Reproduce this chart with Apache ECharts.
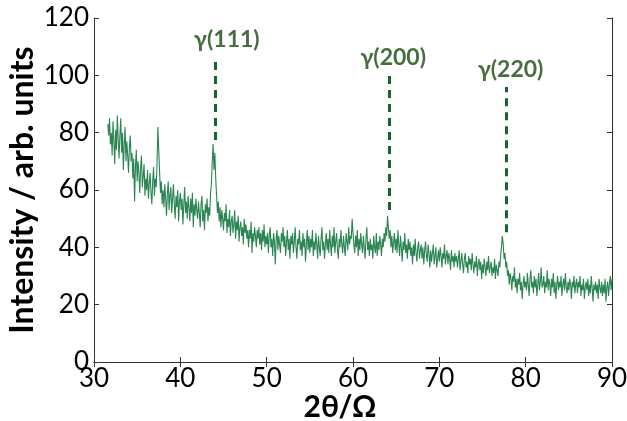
<!DOCTYPE html>
<html>
<head>
<meta charset="utf-8">
<script src="https://cdn.jsdelivr.net/npm/echarts@6/dist/echarts.min.js"></script>
<style>
html,body{margin:0;padding:0;background:#fff;}
#chart{width:627px;height:421px;}
</style>
</head>
<body>
<div id="chart"></div>
<script>
// 2θ sampling grid (degrees)
const angleStart = 31.6;
const angleStep = 0.1;

// Intensity readings (arb. units), one per sampling step
const intensity = [
  83, 79, 85, 76,
  80, 72, 84, 77, 69, 81, 74, 86, 78, 71,
  79, 85, 73, 80, 67, 76, 82, 70, 77, 72,
  66, 75, 79, 70, 73, 64, 71, 56, 68, 74,
  63, 70, 66, 59, 68, 72, 61, 65, 69, 58,
  64, 60, 67, 57, 62, 66, 59, 55, 63, 68,
  58, 64, 61, 69, 82, 74, 66, 59, 63, 55,
  60, 54, 62, 57, 51, 59, 63, 53, 58, 61,
  52, 57, 62, 55, 50, 58, 54, 60, 49, 56,
  59, 53, 57, 48, 55, 61, 52, 56, 50, 58,
  54, 49, 57, 52, 59, 47, 55, 51, 57, 53,
  50, 56, 52, 47, 55, 58, 49, 53, 46, 55,
  52, 57, 49, 54, 51, 59, 62, 70, 76, 67,
  73, 64, 58, 52, 56, 49, 54, 47, 53, 50,
  46, 52, 49, 55, 45, 50, 47, 53, 44, 49,
  51, 45, 48, 53, 43, 49, 46, 51, 42, 47,
  49, 44, 47, 41, 50, 45, 48, 43, 46, 40,
  46, 43, 49, 38, 45, 42, 47, 44, 40, 46,
  43, 47, 41, 45, 39, 46, 42, 48, 40, 44,
  41, 45, 38, 44, 47, 40, 43, 37, 45, 42,
  34, 43, 46, 39, 44, 41, 38, 45, 42, 47,
  40, 44, 37, 42, 46, 39, 43, 36, 44, 41,
  45, 38, 42, 47, 40, 36, 43, 41, 46, 39,
  42, 37, 45, 40, 43, 35, 41, 46, 39, 44,
  38, 43, 40, 46, 37, 42, 39, 45, 41, 36,
  44, 40, 37, 43, 47, 39, 42, 36, 41, 45,
  39, 43, 38, 46, 41, 37, 44, 40, 47, 38,
  42, 45, 39, 36, 43, 40, 46, 41, 38, 44,
  40, 37, 45, 42, 39, 47, 41, 44, 43, 50,
  45, 41, 38, 44, 40, 46, 37, 43, 39, 45,
  41, 38, 44, 40, 36, 43, 47, 39, 42, 37,
  43, 39, 41, 36, 44, 40, 38, 45, 37, 42,
  39, 44, 41, 37, 43, 40, 45, 42, 47, 44,
  51, 47, 43, 46, 40, 44, 38, 42, 45, 39,
  43, 38, 46, 41, 37, 44, 40, 35, 42, 39,
  45, 38, 41, 36, 43, 39, 42, 37, 40, 34,
  41, 37, 43, 38, 35, 40, 42, 36, 39, 41,
  36, 40, 34, 39, 42, 37, 35, 41, 38, 33,
  39, 35, 38, 41, 34, 37, 40, 33, 36, 39,
  35, 40, 37, 33, 38, 36, 41, 34, 37, 39,
  34, 38, 36, 32, 39, 35, 37, 33, 38, 35,
  37, 33, 36, 39, 32, 35, 38, 34, 31, 36,
  38, 33, 35, 31, 37, 34, 36, 32, 38, 34,
  31, 35, 33, 37, 30, 34, 36, 32, 35, 29,
  34, 31, 36, 33, 30, 35, 32, 37, 31, 33,
  35, 30, 33, 31, 36, 29, 34, 32, 30, 35,
  33, 37, 40, 44, 41, 36, 38, 33, 35, 30,
  32, 27, 31, 29, 25, 30, 28, 33, 26, 29,
  24, 29, 27, 31, 25, 28, 22, 27, 30, 26,
  28, 25, 31, 27, 23, 29, 32, 26, 28, 24,
  30, 26, 29, 23, 27, 31, 25, 28, 33, 26,
  27, 30, 24, 28, 26, 32, 25, 29, 27, 23,
  29, 26, 31, 24, 28, 22, 27, 30, 25, 28,
  26, 30, 23, 27, 29, 25, 31, 26, 24, 28,
  25, 29, 27, 22, 28, 26, 30, 24, 27, 29,
  24, 28, 26, 30, 23, 27, 25, 29, 22, 26,
  28, 25, 29, 23, 27, 24, 30, 26, 21, 27,
  25, 28, 24, 27, 22, 29, 26, 24, 28, 23,
  27, 24, 29, 21, 26, 28, 23, 27, 30, 25,
  29
];

// Reflection markers
const peakNames = ['γ(111)', 'γ(200)', 'γ(220)'];
const peakAngles = [44.0, 64.2, 77.8];
const markerBottom = [77.4, 53.0, 45.3];
const markerTop = [106.4, 100.1, 95.9];

// Axis ticks
const xTicks = [30, 40, 50, 60, 70, 80, 90];
const yTicks = [0, 20, 40, 60, 80, 100, 120];

const points = intensity.map((v, i) => [+(angleStart + i * angleStep).toFixed(2), v]);

const FONT = 'Lato';
const axisColor = '#333';
const lineColor = '#2a8552';
const markColor = '#17652a';
const textColor = '#184a0e';

const xMin = xTicks[0], xMax = xTicks[xTicks.length - 1];
const yMin = yTicks[0], yMax = yTicks[yTicks.length - 1];
const xInt = xTicks[1] - xTicks[0], yInt = yTicks[1] - yTicks[0];

const labelOffsets = [[12, -1], [4, -1], [4, -1]];

const chart = echarts.init(document.getElementById('chart'), null, {renderer: 'canvas'});
chart.setOption({
  animation: false,
  backgroundColor: '#fff',
  grid: {left: 94, right: 15, top: 18, bottom: 59, containLabel: false, outerBoundsMode: 'none'},
  xAxis: [{
    type: 'value', min: xMin, max: xMax, interval: xInt,
    name: '2θ/Ω', nameLocation: 'middle', nameGap: 30, nameMoveOverlap: false,
    nameTextStyle: {fontFamily: FONT, fontWeight: 'bold', fontSize: 30, color: '#000', padding: [0, 26, 0, 0]},
    axisLine: {show: true, lineStyle: {color: axisColor, width: 1}},
    axisTick: {show: true, inside: true, length: 5, lineStyle: {color: axisColor}},
    axisLabel: {fontFamily: FONT, fontSize: 26, color: '#000', margin: 4},
    splitLine: {show: false}
  }, {
    type: 'value', position: 'top', min: xMin, max: xMax, interval: xInt,
    axisLine: {show: true, lineStyle: {color: axisColor, width: 1}},
    axisTick: {show: true, inside: true, length: 5, lineStyle: {color: axisColor}},
    axisLabel: {show: false}, splitLine: {show: false}
  }],
  yAxis: [{
    type: 'value', min: yMin, max: yMax, interval: yInt,
    name: 'Intensity / arb. units', nameLocation: 'middle', nameGap: 55, nameMoveOverlap: false,
    nameTextStyle: {fontFamily: FONT, fontWeight: 'bold', fontSize: 32, color: '#000'},
    axisLine: {show: true, lineStyle: {color: axisColor, width: 1}},
    axisTick: {show: true, inside: true, length: 5, lineStyle: {color: axisColor}},
    axisLabel: {fontFamily: FONT, fontSize: 26, color: '#000', margin: 5},
    splitLine: {show: false}
  }, {
    type: 'value', position: 'right', min: yMin, max: yMax, interval: yInt,
    axisLine: {show: true, lineStyle: {color: axisColor, width: 1}},
    axisTick: {show: true, inside: true, length: 5, lineStyle: {color: axisColor}},
    axisLabel: {show: false}, splitLine: {show: false}
  }],
  series: [{
    type: 'line',
    data: points,
    showSymbol: false,
    symbol: 'none',
    lineStyle: {color: lineColor, width: 1.1},
    z: 2,
    markLine: {
      silent: true,
      symbol: 'none',
      label: {show: false},
      lineStyle: {color: markColor, width: 3, type: [8, 6]},
      data: peakAngles.map((a, i) => [{coord: [a, markerBottom[i]]}, {coord: [a, markerTop[i]]}])
    }
  }, {
    type: 'scatter',
    symbolSize: 0,
    silent: true,
    data: peakAngles.map((a, i) => ({
      value: [a, markerTop[i]],
      label: {
        show: true, position: 'top', offset: labelOffsets[i],
        formatter: peakNames[i],
        fontFamily: FONT, fontWeight: 'bold', fontSize: 23, color: textColor
      }
    }))
  }]
});
</script>
</body>
</html>
